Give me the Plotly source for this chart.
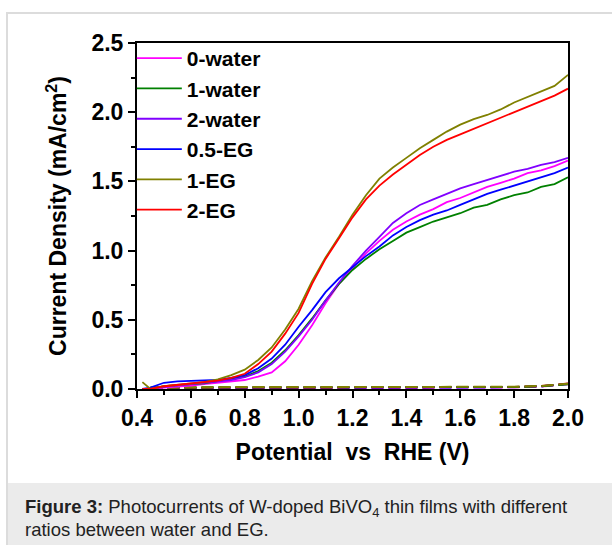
import plotly.graph_objects as go

# ---------------- data ----------------
potential = [0.42, 0.45, 0.50, 0.55, 0.60, 0.65, 0.70, 0.75, 0.80, 0.85, 0.90,
             0.95, 1.00, 1.05, 1.10, 1.15, 1.20, 1.25, 1.30, 1.35, 1.40, 1.45,
             1.50, 1.55, 1.60, 1.65, 1.70, 1.75, 1.80, 1.85, 1.90, 1.95, 2.00]

water0 = [0.00, 0.00, 0.010, 0.015, 0.025, 0.035, 0.045, 0.050, 0.065, 0.09, 0.12,
          0.20, 0.32, 0.46, 0.62, 0.76, 0.87, 0.98, 1.07, 1.15, 1.21, 1.26,
          1.30, 1.35, 1.38, 1.42, 1.46, 1.49, 1.52, 1.56, 1.58, 1.61, 1.65]
water1 = [0.00, 0.00, 0.020, 0.030, 0.035, 0.040, 0.055, 0.070, 0.090, 0.13, 0.19,
          0.28, 0.39, 0.51, 0.64, 0.76, 0.86, 0.94, 1.01, 1.07, 1.13, 1.17,
          1.21, 1.24, 1.27, 1.31, 1.33, 1.37, 1.40, 1.42, 1.46, 1.48, 1.53]
water2 = [0.00, 0.00, 0.015, 0.025, 0.035, 0.040, 0.050, 0.065, 0.085, 0.12, 0.18,
          0.27, 0.38, 0.50, 0.64, 0.77, 0.89, 1.00, 1.10, 1.20, 1.27, 1.33,
          1.37, 1.41, 1.45, 1.48, 1.51, 1.54, 1.57, 1.59, 1.62, 1.64, 1.67]
eg05 = [0.00, 0.01, 0.045, 0.055, 0.058, 0.060, 0.065, 0.080, 0.100, 0.15, 0.22,
        0.32, 0.45, 0.57, 0.70, 0.80, 0.88, 0.96, 1.03, 1.11, 1.17, 1.22,
        1.26, 1.29, 1.33, 1.37, 1.41, 1.44, 1.47, 1.50, 1.53, 1.56, 1.60]
eg1 = [0.05, 0.00, 0.020, 0.030, 0.040, 0.050, 0.070, 0.100, 0.140, 0.21, 0.30,
       0.43, 0.58, 0.78, 0.95, 1.10, 1.26, 1.40, 1.52, 1.60, 1.67, 1.74,
       1.80, 1.86, 1.91, 1.95, 1.98, 2.02, 2.07, 2.11, 2.15, 2.19, 2.27]
eg2 = [0.00, 0.00, 0.020, 0.030, 0.035, 0.045, 0.060, 0.080, 0.110, 0.18, 0.27,
       0.40, 0.55, 0.76, 0.94, 1.09, 1.24, 1.37, 1.47, 1.55, 1.62, 1.69,
       1.75, 1.80, 1.84, 1.88, 1.92, 1.96, 2.00, 2.04, 2.08, 2.12, 2.17]

dark_potential = [0.45, 0.60, 0.80, 1.00, 1.20, 1.40, 1.60, 1.80, 1.90, 2.00]
dark_water0 = [0.006, 0.008, 0.008, 0.008, 0.008, 0.008, 0.009, 0.012, 0.018, 0.035]
dark_water2 = [0.006, 0.008, 0.009, 0.009, 0.009, 0.009, 0.010, 0.013, 0.019, 0.036]
dark_eg05 = [0.008, 0.010, 0.010, 0.010, 0.010, 0.010, 0.011, 0.014, 0.020, 0.038]
dark_eg2 = [0.008, 0.011, 0.011, 0.011, 0.011, 0.011, 0.012, 0.015, 0.021, 0.040]
dark_water1 = [0.010, 0.013, 0.013, 0.013, 0.013, 0.013, 0.013, 0.015, 0.020, 0.034]
dark_eg1 = [0.011, 0.014, 0.014, 0.014, 0.014, 0.014, 0.014, 0.016, 0.022, 0.038]

names = ["0-water", "1-water", "2-water", "0.5-EG", "1-EG", "2-EG"]
colors = ["#FF00FF", "#008000", "#8000FF", "#0000FF", "#808000", "#FF0000"]
light = [water0, water1, water2, eg05, eg1, eg2]

dark_order = [  # (series, colour) drawn bottom to top
    (dark_water0, "#FF00FF"), (dark_water2, "#8000FF"), (dark_eg05, "#0000FF"),
    (dark_eg2, "#FF0000"), (dark_water1, "#008000"), (dark_eg1, "#808000"),
]

x_ticks = [0.4, 0.6, 0.8, 1.0, 1.2, 1.4, 1.6, 1.8, 2.0]
y_ticks = [0.0, 0.5, 1.0, 1.5, 2.0, 2.5]

caption_line1 = "<b>Figure 3:</b> Photocurrents of W-doped BiVO<sub>4</sub> thin films with different"
caption_line2 = "ratios between water and EG."

# ---------------- figure ----------------
FONT = "Liberation Sans, Arial, Helvetica, sans-serif"
fig = go.Figure()

for ys, col in dark_order:
    fig.add_trace(go.Scatter(x=dark_potential, y=ys, mode="lines", showlegend=False,
                             line=dict(color=col, width=2, dash="12px,5px"),
                             hoverinfo="skip"))

for name, col, ys in zip(names, colors, light):
    fig.add_trace(go.Scatter(x=potential, y=ys, mode="lines", name=name,
                             line=dict(color=col, width=1.8)))

# layout geometry (plot area in px: x 137..568, y 43..389)
L, R, T, B = 137, 568, 43, 389
W, H = R - L, B - T


def px(xp):
    return (xp - L) / W


def py(yp):
    return (B - yp) / H


axis_common = dict(
    showline=True, linecolor="black", linewidth=2, mirror=True,
    ticks="outside", ticklen=7, tickwidth=2, tickcolor="black",
    showgrid=False, zeroline=False,
    tickfont=dict(family=FONT, size=23, color="black", weight="bold"),
)
title_font = dict(family=FONT, size=23, color="black", weight="bold")

fig.update_layout(
    width=612, height=545,
    margin=dict(l=L, r=612 - R, t=T, b=545 - B),
    paper_bgcolor="white", plot_bgcolor="white",
    font=dict(family=FONT, color="black"),
    xaxis=dict(range=[0.4, 2.0], tickvals=x_ticks, tickformat=".1f",
               minor=dict(dtick=0.1, ticks="outside", ticklen=4, tickwidth=2,
                          tickcolor="black", showgrid=False),
               title=dict(text="Potential  vs  RHE (V)", standoff=14, font=title_font),
               **axis_common),
    yaxis=dict(range=[0, 2.5], tickvals=y_ticks, tickformat=".1f",
               minor=dict(dtick=0.25, ticks="outside", ticklen=4, tickwidth=2,
                          tickcolor="black", showgrid=False),
               title=dict(text="Current Density (mA/cm<sup>2</sup>)", standoff=18,
                          font=title_font),
               **axis_common),
    legend=dict(x=-0.012, y=py(38), xanchor="left", yanchor="top",
                bgcolor="rgba(0,0,0,0)", borderwidth=0, itemwidth=45,
                font=dict(family=FONT, size=21, color="black", weight="bold"),
                tracegroupgap=0),
    shapes=[
        dict(type="rect", xref="paper", yref="paper", layer="below",
             x0=px(7), x1=px(640), y0=py(570), y1=py(13),
             line=dict(color="#dcdcdc", width=2), fillcolor="rgba(0,0,0,0)"),
        dict(type="rect", xref="paper", yref="paper", layer="below",
             x0=px(8), x1=px(640), y0=py(570), y1=py(483),
             line=dict(width=0), fillcolor="#ebebeb"),
    ],
    annotations=[
        dict(xref="paper", yref="paper", x=px(23), y=py(508),
             xanchor="left", yanchor="middle", align="left", showarrow=False,
             text=caption_line1, font=dict(family=FONT, size=18.5, color="#222222")),
        dict(xref="paper", yref="paper", x=px(23), y=py(529),
             xanchor="left", yanchor="middle", align="left", showarrow=False,
             text=caption_line2, font=dict(family=FONT, size=18.5, color="#222222")),
    ],
)

fig.write_html("out.html")
